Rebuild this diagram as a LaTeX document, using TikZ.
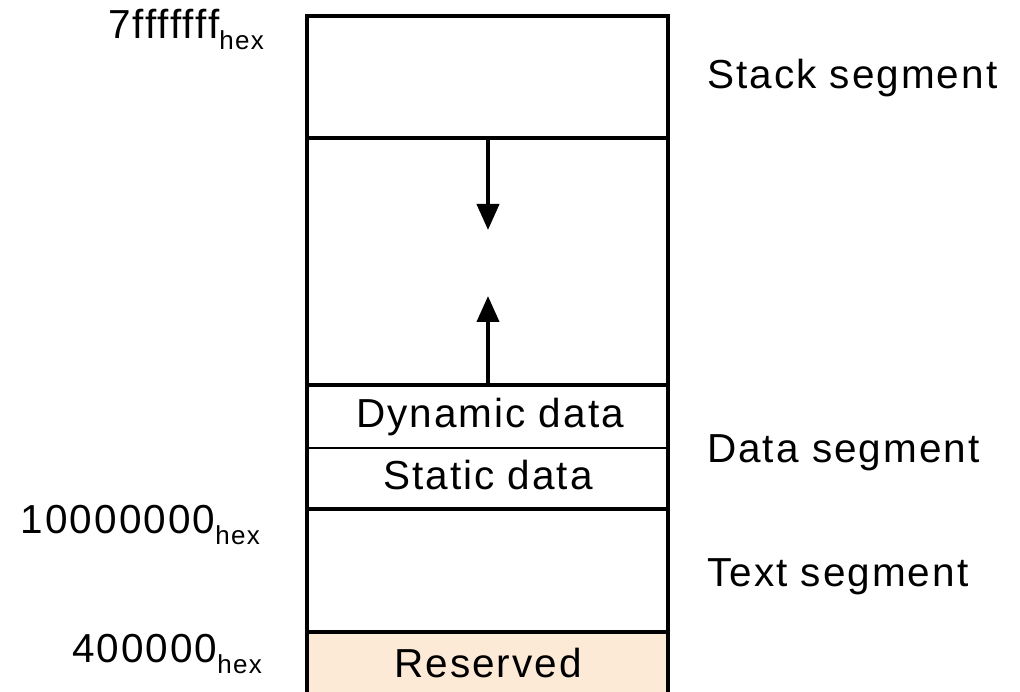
\documentclass[tikz,border=0pt]{standalone}
\usepackage{fontspec}
\setmainfont{Liberation Sans}[LetterSpace=5]
\usetikzlibrary{arrows.meta}
\definecolor{reservedfill}{RGB}{252,233,214}
\newcommand\addrhex[1]{#1\raisebox{-11pt}{\fontsize{26}{26}\selectfont hex}}
\tikzset{
  wall/.style={line width=4.5pt, line cap=rect, line join=miter},
  divider/.style={line width=1.5pt},
  growarrow/.style={line width=4pt, -{Triangle[width=22pt,length=26pt]}},
  lbl/.style={inner sep=0pt, font=\fontsize{40.5}{40.5}\selectfont},
}
\begin{document}
\begin{tikzpicture}[x=1pt,y=-1pt]
  \useasboundingbox (0,0) rectangle (1020,692);
  % reserved area at the bottom
  \fill[reservedfill] (307,632) rectangle (668,700);
  % outer frame of the address space
  \draw[wall] (307,700) -- (307,16) -- (668,16) -- (668,700);
  % segment boundaries
  \foreach \yy in {138,385,509,632} \draw[wall] (307,\yy) -- (668,\yy);
  \draw[divider] (307,448) -- (668,448);
  % stack grows down, heap grows up
  \coordinate (stackbtm) at (488,138);
  \coordinate (stacktip) at (488,230);
  \coordinate (heapbtm) at (488,385);
  \coordinate (heaptip) at (488,296);
  \draw[growarrow] (stackbtm) -- (stacktip);
  \draw[growarrow] (heapbtm) -- (heaptip);
  % contents
  \node[lbl, anchor=base] (dyn) at (490,428) {Dynamic data};
  \node[lbl, anchor=base] (stat) at (488,489) {Static data};
  \node[lbl, anchor=base] (res) at (488,677) {Reserved};
  % segment names
  \node[lbl, anchor=base west] (stackseg) at (707,89) {Stack segment};
  \node[lbl, anchor=base west] (dataseg) at (707,462) {Data segment};
  \node[lbl, anchor=base west] (textseg) at (707,586) {Text segment};
  % addresses
  \node[lbl, anchor=base east] (a7f) at (264,39) {\addrhex{7fffffff}};
  \node[lbl, anchor=base east] (a100) at (260,533) {\addrhex{10000000}};
  \node[lbl, anchor=base east] (a400) at (262,662) {\addrhex{400000}};
\end{tikzpicture}
\end{document}
